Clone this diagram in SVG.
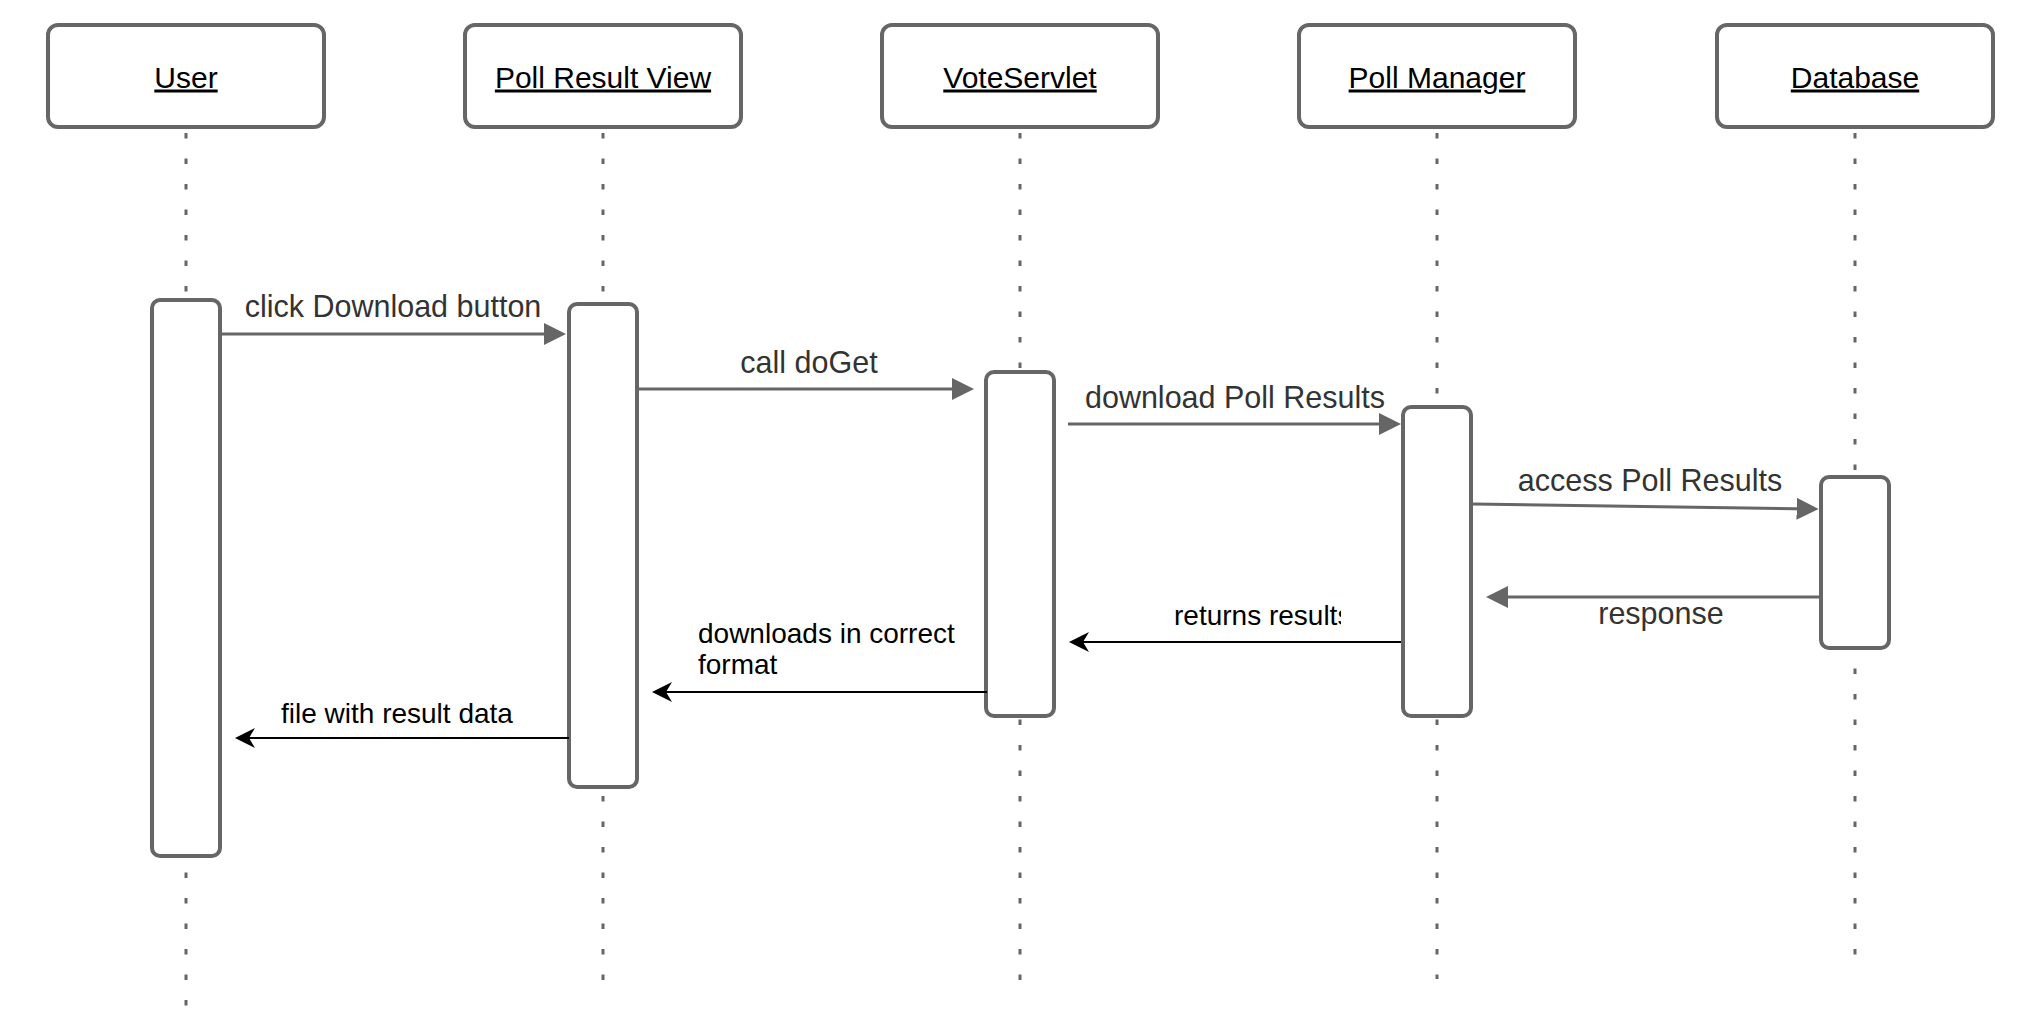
<svg xmlns="http://www.w3.org/2000/svg" width="2024" height="1028" viewBox="0 0 2024 1028">
<style>
.head{fill:#fff;stroke:#666;stroke-width:4}
.act{fill:#fff;stroke:#666;stroke-width:4}
.life{stroke:#666;stroke-width:3;stroke-dasharray:5.5 20;fill:none}
.htxt{font-family:"Liberation Sans",Arial,sans-serif;font-size:30px;fill:#000;text-anchor:middle;text-decoration:underline}
.msg{stroke:#666;stroke-width:3;fill:none;marker-end:url(#block)}
.ret{stroke:#000;stroke-width:2;fill:none;marker-end:url(#classic)}
.lbl{font-family:"Liberation Sans",Arial,sans-serif;font-size:30.5px;fill:#333;text-anchor:middle}
.rlbl{font-family:"Liberation Sans",Arial,sans-serif;font-size:28px;fill:#000}
</style>
<defs>
<marker id="block" viewBox="0 0 22 22" refX="14" refY="11" markerWidth="22" markerHeight="22" markerUnits="userSpaceOnUse" orient="auto">
<path d="M0,0 L22,11 L0,22 Z" fill="#666"/>
</marker>
<marker id="classic" viewBox="0 0 20 20" refX="14" refY="10" markerWidth="20" markerHeight="20" markerUnits="userSpaceOnUse" orient="auto">
<path d="M0,0 L20,10 L0,20 L6,10 Z" fill="#000"/>
</marker>
<clipPath id="clipRet"><rect x="1100" y="590" width="241" height="50"/></clipPath>
</defs>
<rect width="2024" height="1028" fill="#fff"/>
<g id="lifelines">
<line class="life" x1="186" y1="133" x2="186" y2="1007"/>
<line class="life" x1="603" y1="133" x2="603" y2="980"/>
<line class="life" x1="1020" y1="133" x2="1020" y2="981"/>
<line class="life" x1="1437" y1="133" x2="1437" y2="979"/>
<line class="life" x1="1855" y1="133" x2="1855" y2="962"/>
</g>
<g id="user">
<rect class="head" x="48" y="25" width="276" height="102" rx="10"/>
<text class="htxt" x="186" y="87.5">User</text>
<rect class="act" x="152" y="300" width="68" height="556" rx="8"/>
</g>
<g id="pollResultView">
<rect class="head" x="465" y="25" width="276" height="102" rx="10"/>
<text class="htxt" x="603" y="87.5">Poll Result View</text>
<rect class="act" x="569" y="304" width="68" height="483" rx="8"/>
</g>
<g id="voteServlet">
<rect class="head" x="882" y="25" width="276" height="102" rx="10"/>
<text class="htxt" x="1020" y="87.5">VoteServlet</text>
<rect class="act" x="986" y="372" width="68" height="344" rx="8"/>
</g>
<g id="pollManager">
<rect class="head" x="1299" y="25" width="276" height="102" rx="10"/>
<text class="htxt" x="1437" y="87.5">Poll Manager</text>
<rect class="act" x="1403" y="407" width="68" height="309" rx="8"/>
</g>
<g id="database">
<rect class="head" x="1717" y="25" width="276" height="102" rx="10"/>
<text class="htxt" x="1855" y="87.5">Database</text>
<rect class="act" x="1821" y="477" width="68" height="171" rx="8"/>
</g>
<g id="connectors">
<line class="msg" x1="222" y1="334" x2="558" y2="334"/>
<text class="lbl" x="393" y="317">click Download button</text>
<line class="msg" x1="639" y1="389" x2="966" y2="389"/>
<text class="lbl" x="809" y="373">call doGet</text>
<line class="msg" x1="1068" y1="424" x2="1393" y2="424"/>
<text class="lbl" x="1235" y="408">download Poll Results</text>
<line class="msg" x1="1473" y1="504" x2="1810.6" y2="508.9"/>
<text class="lbl" x="1650" y="491">access Poll Results</text>
<line class="msg" x1="1819" y1="597" x2="1494" y2="597"/>
<text class="lbl" x="1661" y="624">response</text>
<line class="ret" x1="1401" y1="642" x2="1075" y2="642"/>
<text class="rlbl" x="1174" y="625" clip-path="url(#clipRet)">returns results</text>
<line class="ret" x1="987" y1="692" x2="658" y2="692"/>
<text class="rlbl" x="698" y="643">downloads in correct</text>
<text class="rlbl" x="698" y="674">format</text>
<line class="ret" x1="569" y1="738" x2="241" y2="738"/>
<text class="rlbl" x="281" y="723">file with result data</text>
</g>
</svg>
